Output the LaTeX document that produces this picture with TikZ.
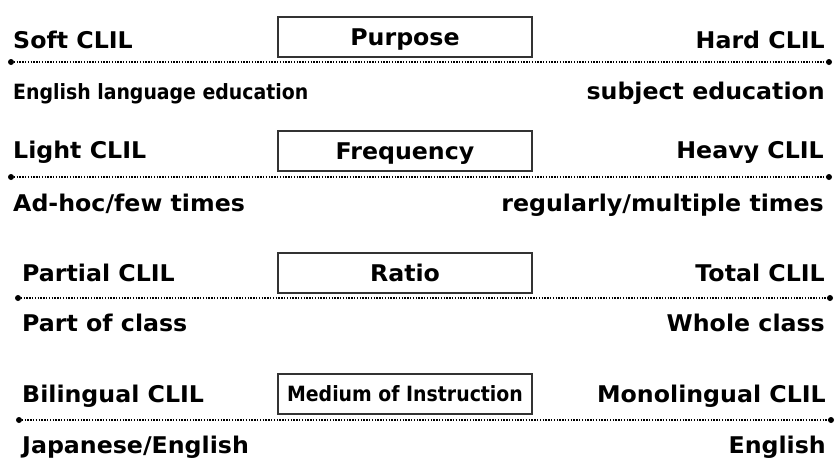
\documentclass[tikz,border=0pt]{standalone}
\usepackage{fontspec}
\setmainfont{DejaVu Sans}[FakeStretch=1.03]
\newfontfamily\condfont{DejaVu Sans Condensed}
\begin{document}
\begin{tikzpicture}[x=1pt,y=-1pt,
  lab/.style={inner sep=0pt, font=\fontsize{23}{27}\selectfont\bfseries},
  clab/.style={inner sep=0pt, font=\fontsize{21}{25}\selectfont\condfont\bfseries},
  catbox/.style={draw=black!80, line width=1.1pt, minimum width=254pt, minimum height=40pt, inner sep=0pt, text height=16pt, text depth=0pt, font=\fontsize{23}{27}\selectfont\bfseries},
  enddot/.style={circle, fill=black, inner sep=0pt, minimum size=6pt},
  scaleline/.style={line width=1.6pt, dash pattern=on 1.3pt off 1.5pt}]
\useasboundingbox (0,0) rectangle (836,459);
% row 1
\node[catbox] (b1) at (405,37) {Purpose};
\node[enddot] (l1) at (11,62) {};
\node[enddot] (r1) at (829,62) {};
\draw[scaleline] (l1.center) -- (r1.center);
\node[lab, anchor=base west] (tl1) at (13,48) {Soft CLIL};
\node[lab, anchor=base east] (tr1) at (825,48) {Hard CLIL};
\node[clab, anchor=base west] (bl1) at (13,99) {English language education};
\node[lab, anchor=base east] (br1) at (825,99) {subject education};
% row 2
\node[catbox] (b2) at (405,151) {Frequency};
\node[enddot] (l2) at (11,177) {};
\node[enddot] (r2) at (829,177) {};
\draw[scaleline] (l2.center) -- (r2.center);
\node[lab, anchor=base west] (tl2) at (13,158) {Light CLIL};
\node[lab, anchor=base east] (tr2) at (824,158) {Heavy CLIL};
\node[lab, anchor=base west] (bl2) at (13,211) {Ad-hoc/few times};
\node[lab, anchor=base east] (br2) at (824,211) {regularly/multiple times};
% row 3
\node[catbox] (b3) at (405,273) {Ratio};
\node[enddot] (l3) at (18,298) {};
\node[enddot] (r3) at (830,298) {};
\draw[scaleline] (l3.center) -- (r3.center);
\node[lab, anchor=base west] (tl3) at (22,281) {Partial CLIL};
\node[lab, anchor=base east] (tr3) at (825,281) {Total CLIL};
\node[lab, anchor=base west] (bl3) at (22,331) {Part of class};
\node[lab, anchor=base east] (br3) at (825,331) {Whole class};
% row 4
\node[catbox, text height=15pt, font=\fontsize{21}{25}\selectfont\condfont\bfseries] (b4) at (405,394) {Medium of Instruction};
\node[enddot] (l4) at (19,420) {};
\node[enddot] (r4) at (831,420) {};
\draw[scaleline] (l4.center) -- (r4.center);
\node[lab, anchor=base west] (tl4) at (22,402) {Bilingual CLIL};
\node[lab, anchor=base east] (tr4) at (826,402) {Monolingual CLIL};
\node[lab, anchor=base west] (bl4) at (22,453) {Japanese/English};
\node[lab, anchor=base east] (br4) at (826,453) {English};
\end{tikzpicture}
\end{document}
